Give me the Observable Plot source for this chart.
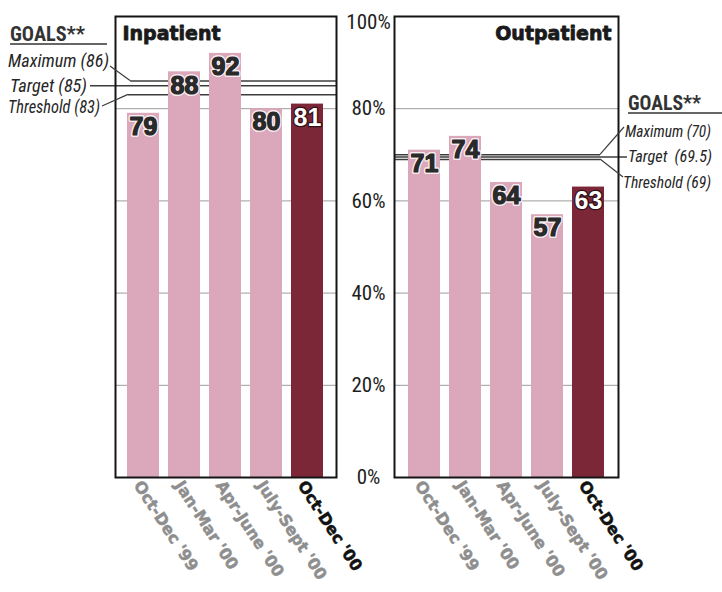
<!DOCTYPE html>
<html><head><meta charset="utf-8">
<script src="https://cdn.jsdelivr.net/npm/d3@7"></script>
<script src="https://cdn.jsdelivr.net/npm/@observablehq/plot@0.6"></script>
<style>
body{margin:0;background:#fff;}
#wrap{position:relative;width:722px;height:592px;overflow:hidden;background:#fff;}
#wrap svg{position:absolute;top:0;overflow:visible;}
</style></head><body><div id="wrap"></div>
<script>
const periods = ["Oct-Dec '99", "Jan-Mar '00", "Apr-June '00", "July-Sept '00", "Oct-Dec '00"];
const inpatient = [79, 88, 92, 80, 81];
const outpatient = [71, 74, 64, 57, 63];
const goalNames = ["Maximum", "Target", "Threshold"];
const inpatientGoals = [86, 85, 83];
const outpatientGoals = [70, 69.5, 69];
const yTicks = [0, 20, 40, 60, 80];
const yTop = [100];
const gridTicks = [20, 40, 60, 80];

const PINK = "#dba7bb", DARK = "#7c2737";
const NARROW = "'Roboto Condensed','Liberation Sans Narrow',Roboto,sans-serif";
const HEAVY = "'DejaVu Sans','Liberation Sans',sans-serif";
const wrap = document.getElementById("wrap");

function panel(o) {
  const rows = periods.map((p, i) => ({period: p, value: o.values[i], current: i === periods.length - 1}));
  const marks = [
    Plot.ruleY(gridTicks, {stroke: "#9c9c9c", strokeWidth: 1}),
    ...o.goals.map((g, i) => Plot.ruleY([g], {stroke: "#3d3d3d", strokeWidth: 1.5, insetLeft: o.insetL[i], insetRight: o.insetR[i]})),
    Plot.barY(rows, {x: "period", y: "value", fill: d => d.current ? DARK : PINK}),
    Plot.text(rows.filter(d => !d.current), {x: "period", y: "value", text: d => String(d.value), lineAnchor: "top", dy: 4,
      fill: "#2a2a2a", stroke: "#f7edf1", strokeWidth: 4, paintOrder: "stroke", fontSize: 25, fontWeight: "bold", fontFamily: "'Liberation Sans',sans-serif"}),
    Plot.text(rows.filter(d => !d.current), {x: "period", y: "value", text: d => String(d.value), lineAnchor: "top", dy: 4,
      fill: "#2a2a2a", stroke: "#2a2a2a", strokeWidth: 1.2, fontSize: 25, fontWeight: "bold", fontFamily: "'Liberation Sans',sans-serif"}),
    Plot.text(rows.filter(d => d.current), {x: "period", y: "value", text: d => String(d.value), lineAnchor: "top", dy: 4,
      fill: "#ffffff", stroke: "#2e1016", strokeWidth: 2.5, paintOrder: "stroke", fontSize: 25, fontWeight: "bold", fontFamily: "'Liberation Sans',sans-serif"}),
    Plot.text(rows, {x: "period", text: "period", frameAnchor: "bottom", rotate: 57, textAnchor: "start", lineAnchor: "middle",
      dx: -6, dy: 5, fill: d => d.current ? "#111111" : "#8e8e8e", stroke: d => d.current ? "#111111" : "#8e8e8e", strokeWidth: 0.5,
      fontSize: 16, fontWeight: "bold", fontFamily: HEAVY}),
    Plot.text([o.title], {frameAnchor: o.titleAnchor, textAnchor: o.titleAnchor === "top-left" ? "start" : "end",
      lineAnchor: "top", dx: o.titleAnchor === "top-left" ? 7 : -7, dy: 10, fontSize: 19, fontWeight: "bold",
      fill: "#1a1a1a", stroke: "#1a1a1a", strokeWidth: 0.8, fontFamily: HEAVY}),
    Plot.frame({stroke: "#151515", strokeWidth: 2})
  ];
  if (o.showY) {
    marks.push(Plot.text(yTicks, {y: d => d, text: d => d + "%", frameAnchor: "right", dx: 32, textAnchor: "middle",
      lineAnchor: "middle", fontSize: 21, fill: "#1e1e1e", fontFamily: NARROW}));
    marks.push(Plot.text(yTop, {y: d => d, text: d => d + "%", frameAnchor: "right", dx: 32, textAnchor: "middle",
      lineAnchor: "middle", dy: 6, fontSize: 21, fill: "#1e1e1e", fontFamily: NARROW}));
  }
  const chart = Plot.plot({
    width: o.width, height: 592,
    marginLeft: o.marginLeft, marginRight: o.marginRight, marginTop: 16, marginBottom: 115,
    style: {background: "transparent", overflow: "visible"},
    x: {domain: periods, paddingInner: 0.21, paddingOuter: 0.3, axis: null},
    y: {domain: [0, 100], axis: null},
    color: {type: "identity"},
    marks
  });
  chart.style.left = o.left + "px";
  wrap.appendChild(chart);
  return chart;
}

function annotate(chart, a) {
  const y = chart.scale("y");
  const svg = d3.select(chart.tagName.toLowerCase() === "svg" ? chart : chart.querySelector("svg"));
  const g = svg.append("g").attr("text-anchor", "start");
  g.append("text").attr("x", a.goalsX).attr("y", a.goalsY).text("GOALS**").attr("text-anchor", "start")
    .attr("textLength", a.goalsW).attr("lengthAdjust", "spacingAndGlyphs")
    .attr("font-family", NARROW).attr("font-weight", "bold").attr("font-size", 20).attr("fill", "#333");
  g.append("line").attr("x1", a.goalsX).attr("x2", a.underX2).attr("y1", a.goalsY + 3).attr("y2", a.goalsY + 3)
    .attr("stroke", "#333").attr("stroke-width", 1.5);
  a.labels.forEach((l, i) => {
    g.append("text").attr("x", l.x).attr("y", l.y).text(l.text).attr("text-anchor", "start")
      .attr("textLength", l.w).attr("lengthAdjust", "spacingAndGlyphs")
      .attr("font-family", NARROW).attr("font-style", "italic").attr("font-size", a.labelSize).attr("fill", "#262626");
  });
  a.leaders.forEach(L => {
    g.append("line").attr("x1", L.x1).attr("y1", L.y1 != null ? L.y1 : y.apply(L.v1))
      .attr("x2", L.x2).attr("y2", L.y2 != null ? L.y2 : y.apply(L.v2))
      .attr("stroke", "#3d3d3d").attr("stroke-width", 1.2);
  });
}

const left = panel({title: "Inpatient", titleAnchor: "top-left", values: inpatient, goals: inpatientGoals,
  insetL: [15, -25, 13], insetR: [0, 0, 0], left: 0, width: 400, marginLeft: 115, marginRight: 64, showY: true});
const right = panel({title: "Outpatient", titleAnchor: "top-right", values: outpatient, goals: outpatientGoals,
  insetL: [0, 0, 0], insetR: [18, -9, 18], left: 360, width: 362, marginLeft: 34, marginRight: 104, showY: false});

annotate(left, {
  goalsX: 10, goalsY: 41, underX2: 107, goalsW: 75, labelSize: 18,
  labels: [
    {x: 8, y: 67, w: 101, text: `${goalNames[0]} (${inpatientGoals[0]})`},
    {x: 10, y: 92, w: 77, text: `${goalNames[1]} (${inpatientGoals[1]})`},
    {x: 8, y: 113, w: 92, text: `${goalNames[2]} (${inpatientGoals[2]})`}
  ],
  leaders: [
    {x1: 110, y1: 66, x2: 130, v2: inpatientGoals[0]},
    {x1: 102, y1: 106, x2: 128, v2: inpatientGoals[2]}
  ]
});
annotate(right, {
  goalsX: 268, goalsY: 110, underX2: 362, goalsW: 73, labelSize: 16.5,
  labels: [
    {x: 265, y: 137, w: 86, text: `${goalNames[0]} (${outpatientGoals[0]})`},
    {x: 268, y: 162, w: 84, text: `${goalNames[1]}\u2002(${outpatientGoals[1]})`},
    {x: 263, y: 188, w: 88, text: `${goalNames[2]} (${outpatientGoals[2]})`}
  ],
  leaders: [
    {x1: 240, v1: outpatientGoals[0], x2: 264, y1: null, y2: 127},
    {x1: 240, v1: outpatientGoals[2], x2: 263, y1: null, y2: 177}
  ]
});
</script></body></html>
